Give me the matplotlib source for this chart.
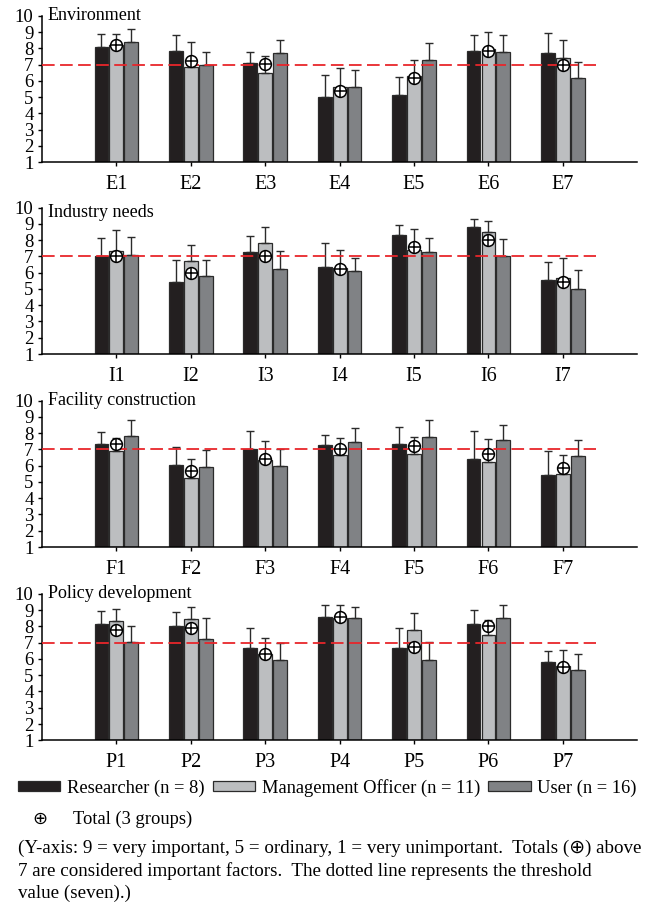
import numpy as np
import matplotlib
matplotlib.use('Agg')
import matplotlib.pyplot as plt
from matplotlib.patches import Patch

plt.rcParams['font.family'] = ['Liberation Serif', 'DejaVu Sans']

# --- Dados ---
painel_titulos = ['Environment', 'Industry needs', 'Facility construction', 'Policy development']
painel_rotulos = [
    ['E1', 'E2', 'E3', 'E4', 'E5', 'E6', 'E7'],
    ['I1', 'I2', 'I3', 'I4', 'I5', 'I6', 'I7'],
    ['F1', 'F2', 'F3', 'F4', 'F5', 'F6', 'F7'],
    ['P1', 'P2', 'P3', 'P4', 'P5', 'P6', 'P7'],
]

# Researcher (n = 8)
pesquisador_media = [
    [8.1, 7.85, 7.1, 5.0, 5.15, 7.85, 7.7],
    [7.02, 5.4, 7.25, 6.35, 8.3, 8.8, 5.55],
    [7.35, 6.05, 7.05, 7.25, 7.3, 6.4, 5.45],
    [8.15, 8.05, 6.7, 8.55, 6.7, 8.15, 5.8],
]
pesquisador_topo = [
    [8.9, 8.8, 7.8, 6.35, 6.25, 8.8, 8.95],
    [8.15, 6.8, 8.25, 7.85, 8.95, 9.3, 6.65],
    [8.05, 7.15, 8.15, 7.9, 8.4, 8.15, 6.9],
    [8.95, 8.9, 7.9, 9.3, 7.9, 9.0, 6.5],
]
# Management Officer (n = 11)
gestor_media = [
    [8.2, 6.85, 6.5, 5.6, 6.3, 7.95, 7.4],
    [7.3, 6.7, 7.8, 6.3, 7.4, 8.5, 5.7],
    [6.9, 5.25, 6.35, 6.65, 6.7, 6.2, 5.5],
    [8.35, 8.45, 6.3, 8.5, 7.75, 7.45, 5.55],
]
gestor_topo = [
    [8.9, 8.4, 7.5, 6.8, 7.3, 9.0, 8.5],
    [8.6, 7.7, 8.8, 7.37, 8.65, 9.15, 6.9],
    [7.68, 6.4, 7.5, 7.7, 7.75, 7.65, 6.65],
    [9.05, 9.2, 7.3, 9.3, 8.8, 8.4, 6.55],
]
# User (n = 16)
usuario_media = [
    [8.4, 6.95, 7.7, 5.6, 7.3, 7.8, 6.15],
    [7.1, 5.8, 6.2, 6.1, 7.25, 7.0, 5.0],
    [7.85, 5.9, 6.0, 7.45, 7.75, 7.55, 6.6],
    [7.05, 7.2, 5.95, 8.5, 5.95, 8.5, 5.3],
]
usuario_topo = [
    [9.2, 7.8, 8.5, 6.65, 8.35, 8.8, 7.15],
    [8.2, 6.75, 7.35, 6.9, 8.15, 8.05, 6.15],
    [8.8, 6.95, 7.0, 8.3, 8.8, 8.5, 7.55],
    [8.05, 8.5, 6.95, 9.2, 7.05, 9.3, 6.3],
]
# Total (3 groups)
total_media = [
    [8.2, 7.2, 7.05, 5.4, 6.2, 7.85, 7.0],
    [7.05, 5.95, 7.05, 6.2, 7.6, 8.0, 5.4],
    [7.35, 5.7, 6.4, 7.05, 7.2, 6.7, 5.85],
    [7.8, 7.9, 6.3, 8.6, 6.75, 8.05, 5.5],
]
limiar = 7

# --- Estilo ---
cores = ['#231f20', '#bcbec0', '#808285']
nomes = ['Researcher (n = 8)', 'Management Officer (n = 11)', 'User (n = 16)']
largura = 0.185
deslocamento = 0.2
base_paineis = [0.8211, 0.6097, 0.3969, 0.1838]

fig = plt.figure(figsize=(6.55, 9.07), dpi=100)

for i in range(4):
    ax = fig.add_axes([0.064, base_paineis[i], 0.909, 0.1615])
    x = np.arange(len(painel_rotulos[i]))
    grupos = [(pesquisador_media[i], pesquisador_topo[i]),
              (gestor_media[i], gestor_topo[i]),
              (usuario_media[i], usuario_topo[i])]
    for k, (med, topo) in enumerate(grupos):
        med = np.array(med)
        topo = np.array(topo)
        xs = x + (k - 1) * deslocamento
        ax.bar(xs, med - 1, bottom=1, width=largura, color=cores[k],
               edgecolor='#2b2b2b', linewidth=0.9, zorder=2)
        ax.errorbar(xs, med, yerr=[np.zeros_like(med), topo - med], fmt='none',
                    ecolor='#2b2b2b', elinewidth=1.0, capsize=2.6, capthick=1.0, zorder=3)

    ax.hlines(limiar, -1, 6.45, colors='#e8262b', linestyles=(0, (7, 3)), linewidth=1.3, zorder=4)

    ax.plot(x, total_media[i], 'o', ms=8.5, mfc='white', mec='black', mew=1.1, zorder=5)
    ax.plot(x, total_media[i], '+', ms=8.5, color='black', mew=1.1, zorder=6)

    ax.set_xlim(-1, 7)
    ax.set_ylim(1, 10)
    ax.set_yticks(range(1, 11))
    ax.set_xticks(x)
    ax.set_xticklabels(painel_rotulos[i])
    ax.tick_params(axis='y', labelsize=13.5, length=3, width=1, pad=3)
    ax.tick_params(axis='x', labelsize=14.5, length=3, width=1, pad=6)
    for lado in ['top', 'right']:
        ax.spines[lado].set_visible(False)
    for lado in ['left', 'bottom']:
        ax.spines[lado].set_linewidth(1.1)

    ytit = 9.7 if i == 1 else 10.0
    ax.text(-0.92, ytit, painel_titulos[i], fontsize=13, va='center', ha='left')

# --- Legenda ---
alcas = [Patch(facecolor=cores[k], edgecolor='#2b2b2b', linewidth=0.9) for k in range(3)]
fig.legend(alcas, nomes, loc='center left', bbox_to_anchor=(0.027, 1 - 788 / 907), ncol=3,
           frameon=False, fontsize=13.3, handlelength=2.3, handleheight=0.45,
           handletextpad=0.35, columnspacing=0.45, borderpad=0, borderaxespad=0)

fig.text(40 / 655, 1 - 819 / 907, '\u2295', fontsize=13, ha='center', va='center',
         family=['DejaVu Sans'])
fig.text(73 / 655, 1 - 819 / 907, 'Total (3 groups)', fontsize=13.3, ha='left', va='center')

nota = ('(Y-axis: 9 = very important, 5 = ordinary, 1 = very unimportant.  Totals (\u2295) above\n'
        '7 are considered important factors.  The dotted line represents the threshold\n'
        'value (seven).)')
fig.text(18 / 655, 1 - 840 / 907, nota, fontsize=13.7, ha='left', va='top', linespacing=1.36)

fig.savefig('out.png', dpi=100)
